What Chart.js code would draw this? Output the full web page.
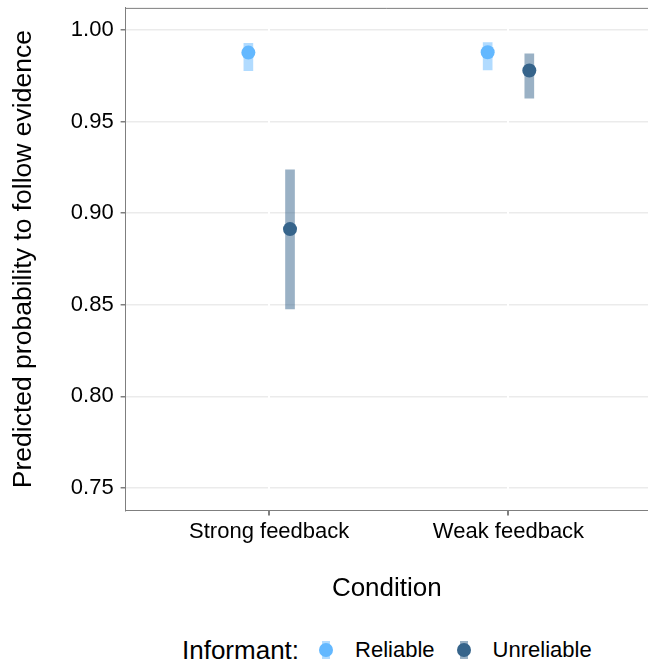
<!DOCTYPE html>
<html>
<head>
<meta charset="utf-8">
<script src="https://cdn.jsdelivr.net/npm/chart.js@4"></script>
<style>
  body { margin: 0; background: #fff; }
  #wrap { position: relative; width: 648px; height: 664px; overflow: hidden; font-family: "Liberation Sans", Arial, sans-serif; color: #000; }
  #chartBox { position: absolute; left: 0; top: 0; width: 648px; height: 620px; }
  #legend { position: absolute; left: 182px; top: 633px; height: 34px; display: flex; align-items: center; white-space: nowrap; }
  #legend .title { font-size: 26px; margin-right: 20px; }
  #legend .key { position: relative; width: 14px; height: 18px; margin-right: 22px; }
  #legend .bar { position: absolute; left: 3px; top: 0; width: 8px; height: 18px; }
  #legend .dot { position: absolute; left: 0; top: 2px; width: 14px; height: 14px; border-radius: 50%; }
  #legend .lab { font-size: 22px; margin-right: 22px; }
</style>
</head>
<body>
<div id="wrap">
  <div id="chartBox"><canvas id="chart"></canvas></div>
  <div id="legend"></div>
</div>
<script>
// =====================
// Data
// =====================
const conditions = ["Strong feedback", "Weak feedback"]
const informants = ["Reliable", "Unreliable"]

const reliableMean = [0.9876, 0.9878]
const reliableLow = [0.9778, 0.9782]
const reliableHigh = [0.9927, 0.9931]

const unreliableMean = [0.8913, 0.9778]
const unreliableLow = [0.8478, 0.9627]
const unreliableHigh = [0.9236, 0.9869]

const yTicks = [0.75, 0.80, 0.85, 0.90, 0.95, 1.00]

const pointColors = ["#63B8FF", "#36648B"]
const barColors = ["rgba(99,184,255,0.5)", "rgba(54,100,139,0.5)"]
const dodge = 0.087
const axisGrey = "#7f7f7f"

Chart.defaults.font.family = "'Liberation Sans', Arial, sans-serif"
Chart.defaults.color = "#000"


function points(mean, shift) {
  return conditions.map((c, i) => ({ x: i + 1 + shift, y: mean[i] }))
}

function ranges(low, high, shift) {
  return conditions.map((c, i) => ({ x: i + 1 + shift, y: [low[i], high[i]] }))
}


// top edge of the panel box
const panelTop = {
  id: "panelTop",
  afterDraw(chart) {
    const { ctx, chartArea } = chart
    ctx.save()
    ctx.strokeStyle = axisGrey
    ctx.lineWidth = 1
    ctx.beginPath()
    ctx.moveTo(chartArea.left, chartArea.top + 0.5)
    ctx.lineTo(chartArea.right, chartArea.top + 0.5)
    ctx.stroke()
    ctx.restore()
  }
}


// =====================
// Build chart
// =====================
new Chart(document.getElementById("chart"), {
  type: "scatter",
  data: {
    datasets: [
      {
        type: "bar",
        label: "Reliable range",
        data: ranges(reliableLow, reliableHigh, -dodge),
        backgroundColor: barColors[0],
        barThickness: 9,
        grouped: false,
        order: 2
      },
      {
        type: "bar",
        label: "Unreliable range",
        data: ranges(unreliableLow, unreliableHigh, dodge),
        backgroundColor: barColors[1],
        barThickness: 9,
        grouped: false,
        order: 2
      },
      {
        label: informants[0],
        data: points(reliableMean, -dodge),
        pointRadius: 7,
        pointBackgroundColor: pointColors[0],
        pointBorderWidth: 0,
        order: 1
      },
      {
        label: informants[1],
        data: points(unreliableMean, dodge),
        pointRadius: 7,
        pointBackgroundColor: pointColors[1],
        pointBorderWidth: 0,
        order: 1
      }
    ]
  },
  options: {
    animation: false,
    responsive: true,
    maintainAspectRatio: false,
    layout: { autoPadding: false, padding: { top: 0, right: 0, left: 0, bottom: 16 } },
    plugins: {
      legend: { display: false },
      tooltip: { enabled: false }
    },
    scales: {
      x: {
        type: "linear",
        min: 0.4,
        max: 2.583,
        offset: false,
        afterBuildTicks: scale => {
          scale.ticks = conditions.map((c, i) => ({ value: i + 1 }))
        },
        ticks: {
          callback: v => conditions[Math.round(v) - 1],
          font: { size: 22 },
          color: "#000",
          padding: 3,
          maxRotation: 0,
          autoSkip: false
        },
        grid: {
          offset: false,
          color: "#ffffff",
          lineWidth: 2,
          tickColor: axisGrey,
          tickLength: 5,
          z: -0.5
        },
        border: { color: axisGrey, width: 1 },
        title: {
          display: true,
          text: "Condition",
          font: { size: 26 },
          color: "#000",
          padding: { top: 25, bottom: 0 }
        }
      },
      y: {
        type: "linear",
        min: 0.7378,
        max: 1.012,
        afterBuildTicks: scale => {
          scale.ticks = yTicks.map(v => ({ value: v }))
        },
        ticks: {
          callback: v => v.toFixed(2),
          // small lineHeight keeps the panel top close to the canvas edge
          font: { size: 22, lineHeight: 0.08 },
          color: "#000",
          padding: 7
        },
        grid: {
          color: "#ebebeb",
          lineWidth: 1.5,
          tickColor: axisGrey,
          tickLength: 5
        },
        border: { color: axisGrey, width: 1 },
        title: {
          display: true,
          text: "Predicted probability to follow evidence",
          font: { size: 26.5 },
          color: "#000",
          padding: { top: 8, bottom: 24 }
        }
      }
    }
  },
  plugins: [panelTop]
})


// =====================
// Legend
// =====================
const legend = document.getElementById("legend")
legend.innerHTML = `<span class="title">Informant:</span>` +
  informants.map((name, i) => `
    <span class="key">
      <span class="bar" style="background:${barColors[i]}"></span>
      <span class="dot" style="background:${pointColors[i]}"></span>
    </span>
    <span class="lab">${name}</span>`).join("")
</script>
</body>
</html>
